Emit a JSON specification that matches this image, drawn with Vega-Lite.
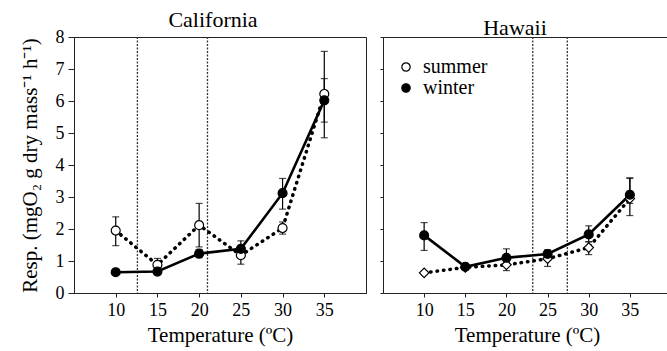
{
  "$schema": "https://vega.github.io/schema/vega-lite/v6.json",
  "padding": {"left": 18, "top": 8, "right": 0, "bottom": 5},
  "spacing": 12,
  "datasets": {
    "resp": [
      {"region": "California", "season": "summer", "temp": 10, "resp": 1.95, "lo": 1.48, "hi": 2.38},
      {"region": "California", "season": "summer", "temp": 15, "resp": 0.88, "lo": 0.7, "hi": 1.08},
      {"region": "California", "season": "summer", "temp": 20, "resp": 2.12, "lo": 1.44, "hi": 2.8},
      {"region": "California", "season": "summer", "temp": 25, "resp": 1.18, "lo": 0.9, "hi": 1.46},
      {"region": "California", "season": "summer", "temp": 30, "resp": 2.03, "lo": 1.84, "hi": 2.22},
      {"region": "California", "season": "summer", "temp": 35, "resp": 6.22, "lo": 4.85, "hi": 7.55},
      {"region": "California", "season": "winter", "temp": 10, "resp": 0.65, "lo": 0.6, "hi": 0.7},
      {"region": "California", "season": "winter", "temp": 15, "resp": 0.67, "lo": 0.6, "hi": 0.74},
      {"region": "California", "season": "winter", "temp": 20, "resp": 1.23, "lo": 1.1, "hi": 1.36},
      {"region": "California", "season": "winter", "temp": 25, "resp": 1.38, "lo": 1.2, "hi": 1.63},
      {"region": "California", "season": "winter", "temp": 30, "resp": 3.12, "lo": 2.62, "hi": 3.58},
      {"region": "California", "season": "winter", "temp": 35, "resp": 6.02, "lo": 5.34, "hi": 6.7},
      {"region": "Hawaii", "season": "summer", "temp": 10, "resp": 0.63, "lo": 0.58, "hi": 0.68},
      {"region": "Hawaii", "season": "summer", "temp": 15, "resp": 0.8, "lo": 0.72, "hi": 0.88},
      {"region": "Hawaii", "season": "summer", "temp": 20, "resp": 0.88, "lo": 0.7, "hi": 1.0},
      {"region": "Hawaii", "season": "summer", "temp": 25, "resp": 1.07, "lo": 0.83, "hi": 1.25},
      {"region": "Hawaii", "season": "summer", "temp": 30, "resp": 1.42, "lo": 1.2, "hi": 1.6},
      {"region": "Hawaii", "season": "summer", "temp": 35, "resp": 2.95, "lo": 2.42, "hi": 3.58},
      {"region": "Hawaii", "season": "winter", "temp": 10, "resp": 1.8, "lo": 1.33, "hi": 2.2},
      {"region": "Hawaii", "season": "winter", "temp": 15, "resp": 0.82, "lo": 0.75, "hi": 0.9},
      {"region": "Hawaii", "season": "winter", "temp": 20, "resp": 1.1, "lo": 0.95, "hi": 1.38},
      {"region": "Hawaii", "season": "winter", "temp": 25, "resp": 1.22, "lo": 1.1, "hi": 1.35},
      {"region": "Hawaii", "season": "winter", "temp": 30, "resp": 1.83, "lo": 1.6, "hi": 2.1},
      {"region": "Hawaii", "season": "winter", "temp": 35, "resp": 3.07, "lo": 2.8, "hi": 3.6}
    ]
  },
  "config": {
    "font": "Liberation Serif",
    "view": {"stroke": "#222", "strokeWidth": 1},
    "axis": {
      "grid": false,
      "domainColor": "#222",
      "tickColor": "#222",
      "labelColor": "black",
      "titleColor": "black",
      "labelFont": "Liberation Serif",
      "titleFont": "Liberation Serif",
      "labelFontSize": 18,
      "titleFontSize": 21,
      "titleFontWeight": "normal",
      "labelOverlap": false,
      "labelPadding": 4
    },
    "axisX": {"tickSize": 4},
    "axisY": {"tickSize": 6},
    "title": {"font": "Liberation Serif", "fontSize": 22, "fontWeight": "normal", "color": "black", "offset": -4},
    "legend": {"labelFont": "Liberation Serif", "labelFontSize": 20, "labelColor": "black"}
  },
  "resolve": {"legend": {"fill": "independent"}},
  "hconcat": [
    {
      "title": {"text": "California", "dx": -7},
      "width": 292,
      "height": 256,
      "data": {"name": "resp"},
      "encoding": {
        "x": {"field": "temp", "type": "quantitative", "scale": {"domain": [5, 40], "nice": false}, "axis": {"values": [10, 15, 20, 25, 30, 35], "title": "Temperature (ºC)", "titlePadding": 5}},
        "y": {"field": "resp", "type": "quantitative", "scale": {"domain": [0, 8], "nice": false}, "axis": {"values": [0, 1, 2, 3, 4, 5, 6, 7, 8], "labelOverlap": false, "title": "Resp. (mgO₂ g dry mass⁻¹ h⁻¹)", "titlePadding": 15}}
      },
      "layer": [
        {
          "data": {"values": [{"t": 12.6}, {"t": 21.0}]},
          "mark": {"type": "rule", "strokeDash": [2, 1.5], "strokeWidth": 1.3, "color": "#333"},
          "encoding": {"x": {"field": "t", "type": "quantitative"}, "y": null}
        },
        {
          "transform": [{"filter": "datum.region === 'California'"}],
          "mark": {"type": "rule", "strokeWidth": 1.2, "color": "black"},
          "encoding": {"y": {"field": "lo", "type": "quantitative", "axis": {"values": [0, 1, 2, 3, 4, 5, 6, 7, 8], "labelOverlap": false, "title": "Resp. (mgO₂ g dry mass⁻¹ h⁻¹)", "titlePadding": 15}}, "y2": {"field": "hi"}}
        },
        {
          "transform": [{"filter": "datum.region === 'California'"}],
          "mark": {"type": "tick", "orient": "horizontal", "size": 7, "thickness": 1.2, "color": "black"},
          "encoding": {"y": {"field": "lo", "type": "quantitative", "axis": {"values": [0, 1, 2, 3, 4, 5, 6, 7, 8], "labelOverlap": false, "title": "Resp. (mgO₂ g dry mass⁻¹ h⁻¹)", "titlePadding": 15}}}
        },
        {
          "transform": [{"filter": "datum.region === 'California'"}],
          "mark": {"type": "tick", "orient": "horizontal", "size": 7, "thickness": 1.2, "color": "black"},
          "encoding": {"y": {"field": "hi", "type": "quantitative", "axis": {"values": [0, 1, 2, 3, 4, 5, 6, 7, 8], "labelOverlap": false, "title": "Resp. (mgO₂ g dry mass⁻¹ h⁻¹)", "titlePadding": 15}}}
        },
        {
          "transform": [{"filter": "datum.region === 'California' && datum.season === 'summer'"}],
          "mark": {"type": "line", "color": "black", "strokeWidth": 3.5, "strokeDash": [0.5, 6], "strokeCap": "round"}
        },
        {
          "transform": [{"filter": "datum.region === 'California' && datum.season === 'winter'"}],
          "mark": {"type": "line", "color": "black", "strokeWidth": 2.6}
        },
        {
          "transform": [{"filter": "datum.region === 'California'"}],
          "mark": {"type": "point", "shape": "circle", "filled": true, "stroke": "black", "strokeWidth": 1.2, "size": 80, "opacity": 1},
          "encoding": {
            "fill": {"field": "season", "type": "nominal", "scale": {"domain": ["summer", "winter"], "range": ["white", "black"]}, "legend": null}
          }
        }
      ]
    },
    {
      "title": {"text": "Hawaii", "dx": -12},
      "width": 288,
      "height": 256,
      "data": {"name": "resp"},
      "encoding": {
        "x": {"field": "temp", "type": "quantitative", "scale": {"domain": [5, 40], "nice": false}, "axis": {"values": [10, 15, 20, 25, 30, 35], "title": "Temperature (ºC)", "titlePadding": 5}},
        "y": {"field": "resp", "type": "quantitative", "scale": {"domain": [0, 8], "nice": false}, "axis": {"values": [0, 1, 2, 3, 4, 5, 6, 7, 8], "labels": false, "title": null, "tickSize": 3}}
      },
      "layer": [
        {
          "data": {"values": [{"t": 23.2}, {"t": 27.4}]},
          "mark": {"type": "rule", "strokeDash": [2, 1.5], "strokeWidth": 1.3, "color": "#333"},
          "encoding": {"x": {"field": "t", "type": "quantitative"}, "y": null}
        },
        {
          "transform": [{"filter": "datum.region === 'Hawaii'"}],
          "mark": {"type": "rule", "strokeWidth": 1.2, "color": "black"},
          "encoding": {"y": {"field": "lo", "type": "quantitative", "axis": {"values": [0, 1, 2, 3, 4, 5, 6, 7, 8], "labels": false, "title": null, "tickSize": 3}}, "y2": {"field": "hi"}}
        },
        {
          "transform": [{"filter": "datum.region === 'Hawaii'"}],
          "mark": {"type": "tick", "orient": "horizontal", "size": 7, "thickness": 1.2, "color": "black"},
          "encoding": {"y": {"field": "lo", "type": "quantitative", "axis": {"values": [0, 1, 2, 3, 4, 5, 6, 7, 8], "labels": false, "title": null, "tickSize": 3}}}
        },
        {
          "transform": [{"filter": "datum.region === 'Hawaii'"}],
          "mark": {"type": "tick", "orient": "horizontal", "size": 7, "thickness": 1.2, "color": "black"},
          "encoding": {"y": {"field": "hi", "type": "quantitative", "axis": {"values": [0, 1, 2, 3, 4, 5, 6, 7, 8], "labels": false, "title": null, "tickSize": 3}}}
        },
        {
          "transform": [{"filter": "datum.region === 'Hawaii' && datum.season === 'summer'"}],
          "mark": {"type": "line", "color": "black", "strokeWidth": 3.5, "strokeDash": [0.5, 6], "strokeCap": "round"}
        },
        {
          "transform": [{"filter": "datum.region === 'Hawaii' && datum.season === 'winter'"}],
          "mark": {"type": "line", "color": "black", "strokeWidth": 2.6}
        },
        {
          "transform": [{"filter": "datum.region === 'Hawaii' && datum.season === 'summer'"}],
          "mark": {"type": "point", "shape": "diamond", "filled": true, "stroke": "black", "strokeWidth": 1.2, "size": 90, "opacity": 1},
          "encoding": {
            "fill": {"field": "season", "type": "nominal", "scale": {"domain": ["summer", "winter"], "range": ["white", "black"]},
              "legend": {"title": null, "orient": "none", "legendX": 13, "legendY": 20, "symbolType": "circle", "symbolSize": 70, "symbolStrokeColor": "black", "symbolStrokeWidth": 1.2, "labelOffset": 7, "rowPadding": 1, "padding": 0, "labelFont": "Liberation Serif", "labelFontSize": 20}}
          }
        },
        {
          "transform": [{"filter": "datum.region === 'Hawaii' && datum.season === 'winter'"}],
          "mark": {"type": "point", "shape": "circle", "filled": true, "stroke": "black", "strokeWidth": 1.2, "size": 80, "opacity": 1},
          "encoding": {
            "fill": {"field": "season", "type": "nominal", "scale": {"domain": ["summer", "winter"], "range": ["white", "black"]},
              "legend": {"title": null, "orient": "none", "legendX": 13, "legendY": 20, "symbolType": "circle", "symbolSize": 70, "symbolStrokeColor": "black", "symbolStrokeWidth": 1.2, "labelOffset": 7, "rowPadding": 1, "padding": 0, "labelFont": "Liberation Serif", "labelFontSize": 20}}
          }
        }
      ]
    }
  ]
}
